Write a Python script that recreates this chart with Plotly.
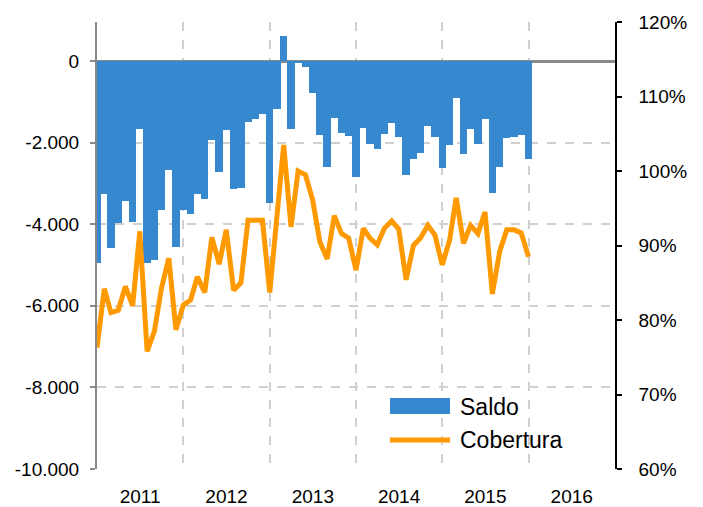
import pandas as pd
import plotly.graph_objects as go

# ---- data ----
months = pd.date_range("2011-01-01", periods=61, freq="MS")

saldo = [
    -4940, -3270, -4590, -3960, -3430, -3940, -1670, -4940, -4880, -3660, -2680, -4550,
    -3660, -3760, -3260, -3380, -1940, -2720, -1690, -3140, -3110, -1500, -1420, -1310,
    -3490, -1180, 610, -1655, -60, -140, -790, -1815, -2590, -1390, -1775, -1840,
    -2835, -1635, -2045, -2165, -1790, -1510, -1855, -2795, -2410, -2245, -1595, -1855,
    -2615, -2060, -915, -2285, -1665, -2045, -1430, -3230, -2590, -1895, -1855, -1815,
    -2400,
]

cobertura = [
    76.3, 84.2, 81.0, 81.3, 84.5, 81.9, 91.9, 75.8, 78.5, 84.3, 88.3, 78.7,
    82.0, 82.7, 85.8, 83.7, 91.1, 87.5, 92.1, 84.0, 85.0, 93.4, 93.4, 93.4,
    83.7, 93.5, 103.5, 92.5, 100.0, 99.5, 96.2, 90.5, 88.2, 94.0, 91.6, 91.0,
    86.7, 92.3, 91.0, 90.1, 92.3, 93.3, 92.2, 85.4, 90.0, 91.0, 92.7, 91.4,
    87.4, 90.7, 96.4, 90.3, 92.7, 91.6, 94.5, 83.5, 89.2, 92.1, 92.1, 91.7,
    88.5,
]

left_tickvals = [0, -2000, -4000, -6000, -8000, -10000]
left_ticktext = ["0", "-2.000", "-4.000", "-6.000", "-8.000", "-10.000"]
right_tickvals = [60, 70, 80, 90, 100, 110, 120]
right_ticktext = ["60%", "70%", "80%", "90%", "100%", "110%", "120%"]

BLUE = "#3689cf"
ORANGE = "#ff9900"
GRID = "#d0d0d0"
FONT = "Liberation Sans, Arial, sans-serif"

fig = go.Figure()

fig.add_trace(go.Bar(
    x=months, y=saldo, name="Saldo",
    marker=dict(color=BLUE, line=dict(width=0)),
    width=31.2 * 86400000,
    showlegend=False,
))

fig.add_trace(go.Scatter(
    x=months, y=cobertura, name="Cobertura", yaxis="y2",
    mode="lines", line=dict(color=ORANGE, width=5),
    showlegend=False,
))

# manual legend (wide swatches as in the reference)
fig.add_shape(type="rect", xref="paper", yref="paper",
              x0=0.5656, x1=0.6815, y0=0.1230, y1=0.1588,
              fillcolor=BLUE, line=dict(width=0))
fig.add_shape(type="line", xref="paper", yref="paper",
              x0=0.5656, x1=0.6815, y0=0.0649, y1=0.0649,
              line=dict(color=ORANGE, width=5))
fig.add_annotation(xref="paper", yref="paper", x=0.6970, y=0.1387,
                   text="Saldo", showarrow=False, xanchor="left", yanchor="middle",
                   font=dict(size=23, color="#000000", family=FONT))
fig.add_annotation(xref="paper", yref="paper", x=0.6970, y=0.0649,
                   text="Cobertura", showarrow=False, xanchor="left", yanchor="middle",
                   font=dict(size=23, color="#000000", family=FONT))

fig.update_layout(
    width=703, height=507,
    margin=dict(l=89, r=96, t=14, b=46, autoexpand=False),
    paper_bgcolor="white", plot_bgcolor="white",
    font=dict(family=FONT, size=19, color="#000000"),
    bargap=0,
    xaxis=dict(
        type="date",
        range=["2011-01-01", "2017-01-01"],
        tick0="2011-01-01", dtick="M12", tickformat="%Y",
        ticklabelmode="period",
        showgrid=True, gridcolor=GRID, griddash="dash", gridwidth=1.5,
        showline=False, ticks="", zeroline=False, automargin=False,
        tickfont=dict(size=19), ticklabelstandoff=14,
    ),
    yaxis=dict(
        range=[-10000, 956],
        tickmode="array", tickvals=left_tickvals, ticktext=left_ticktext,
        showgrid=True, gridcolor=GRID, griddash="dash", gridwidth=1.5,
        showline=True, linecolor="#898989", linewidth=2,
        ticks="outside", ticklen=5, tickcolor="#898989", tickwidth=1.5,
        zeroline=True, zerolinecolor="#898989", zerolinewidth=3, automargin=False,
        tickfont=dict(size=19), ticklabelstandoff=7,
    ),
    yaxis2=dict(
        overlaying="y", side="right",
        range=[60, 120],
        tickmode="array", tickvals=right_tickvals, ticktext=right_ticktext,
        showgrid=False, zeroline=False, automargin=False,
        showline=True, linecolor="#000000", linewidth=1.5,
        ticks="outside", ticklen=5, tickcolor="#000000", tickwidth=1.5,
        tickfont=dict(size=19), ticklabelstandoff=13,
    ),
)

fig.write_html("out.html")
